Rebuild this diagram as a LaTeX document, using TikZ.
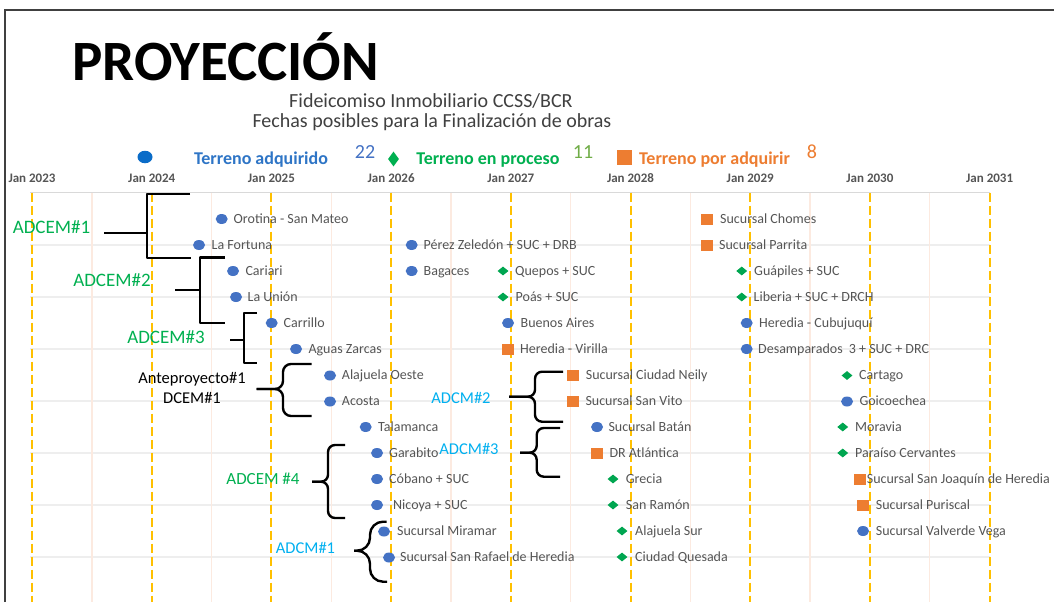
\documentclass[tikz,border=0pt]{standalone}
\usepackage{fontspec}
\setmainfont{Carlito}
\usetikzlibrary{shapes.geometric}
\definecolor{ptblue}{HTML}{4472C4}
\definecolor{ptgreen}{HTML}{00A650}
\definecolor{ptorange}{HTML}{ED7D31}
\definecolor{lblgray}{HTML}{555555}
\definecolor{gridgray}{HTML}{EEEEEE}
\definecolor{topgray}{HTML}{D9D9D9}
\definecolor{peach}{HTML}{FCEAE0}
\definecolor{yel}{HTML}{FFC000}
\definecolor{legblue}{HTML}{2E75C6}
\definecolor{legdot}{HTML}{0A6CC8}
\definecolor{leggreen}{HTML}{00B050}
\definecolor{cyanlbl}{HTML}{00B0F0}
\definecolor{numgreen}{HTML}{70AD47}
\definecolor{subgray}{HTML}{404040}
\begin{document}
\begin{tikzpicture}[x=1pt,y=-1pt,
  dot/.style={ellipse, fill=ptblue, minimum width=12pt, minimum height=10pt, inner sep=0pt},
  dia/.style={diamond, fill=ptgreen, minimum width=11pt, minimum height=9pt, inner sep=0pt},
  sq/.style={rectangle, fill=ptorange, minimum width=12pt, minimum height=11pt, inner sep=0pt},
  lbl/.style={anchor=west, inner sep=0pt, text=lblgray, text height=8.9pt, text depth=0pt, font=\fontsize{14}{16}\selectfont},
  axlbl/.style={inner sep=0pt, text=lblgray, text height=8.3pt, text depth=0pt, font=\fontsize{13}{15}\selectfont\bfseries},
  brk/.style={line width=2.4pt, black, line join=round},
  grnlbl/.style={inner sep=0pt, text=leggreen, text height=12pt, text depth=0pt, font=\fontsize{19}{22}\selectfont},
  cylbl/.style={inner sep=0pt, text=cyanlbl, text height=10.4pt, text depth=0pt, font=\fontsize{16.5}{19}\selectfont},
  legtxt/.style={inner sep=0pt, text height=11.4pt, text depth=0pt, font=\fontsize{18}{21}\selectfont\bfseries},
  legnum/.style={inner sep=0pt, text height=12.6pt, text depth=0pt, font=\fontsize{20}{23}\selectfont},
  subt/.style={inner sep=0pt, text=subgray, text height=12.6pt, text depth=0pt, font=\fontsize{20}{23}\selectfont}
]
\fill[white] (0,0) rectangle (1054,602);
\useasboundingbox (0,0) rectangle (1054,602);
% frame
\draw[subgray, line width=1.3pt] (5,602) -- (5,10) -- (1054,10);
% title
\node[anchor=base west, inner sep=0pt, font=\fontsize{57}{60}\selectfont\bfseries] (title) at (72,80) {PROYECCIÓN};
\node[subt] (sub1) at (431,101) {Fideicomiso Inmobiliario CCSS/BCR};
\node[subt] (sub2) at (432,121) {Fechas posibles para la Finalización de obras};
% legend
\node[ellipse, fill=legdot, minimum width=15pt, minimum height=12.5pt, inner sep=0pt] (lg1) at (145,157) {};
\node[legtxt, text=legblue] (lt1) at (261,159) {Terreno adquirido};
\node[legnum, text=ptblue] (ln1) at (365,152) {22};
\node[diamond, fill=leggreen, minimum width=11pt, minimum height=15pt, inner sep=0pt] (lg2) at (393.5,159) {};
\node[legtxt, text=leggreen] (lt2) at (488,159) {Terreno en proceso};
\node[legnum, text=numgreen] (ln2) at (583,152) {11};
\node[rectangle, fill=ptorange, minimum width=15pt, minimum height=15pt, inner sep=0pt] (lg3) at (624,157) {};
\node[legtxt, text=ptorange] (lt3) at (714.5,159) {Terreno por adquirir};
\node[legnum, text=ptorange] (ln3) at (812,152) {8};
% axis labels
\foreach \k/\yr in {0/2023,1/2024,2/2025,3/2026,4/2027,5/2028,6/2029,7/2030,8/2031}
  \node[axlbl] (ax\yr) at ({32+119.7*\k},178) {Jan \yr};
% grid
\draw[topgray, line width=1.5pt] (30,192.7) -- (990,192.7);
\foreach \yy in {245,297,349,401,453,505,557}
  \draw[gridgray, line width=1.2pt] (30,\yy) -- (990,\yy);
\foreach \k in {0,...,7}
  \draw[peach, line width=1.3pt] ({91.85+119.7*\k},192.7) -- ({91.85+119.7*\k},602);
\foreach \k in {0,...,8}
  \draw[yel, line width=2pt, dash pattern=on 9pt off 4pt] ({32+119.7*\k},192.7) -- ({32+119.7*\k},602);
% column 1
\node[dot] (m1) at (221.7,219) {};   \node[lbl] (l1) at (233.5,219) {Orotina - San Mateo};
\node[dot] (m2) at (199,245) {};     \node[lbl] (l2) at (211.5,245) {La Fortuna};
\node[dot] (m3) at (233,271) {};     \node[lbl] (l3) at (245.3,271) {Cariari};
\node[dot] (m4) at (236,297) {};     \node[lbl] (l4) at (247.5,297) {La Unión};
\node[dot] (m5) at (271.7,323) {};   \node[lbl] (l5) at (283.5,323) {Carrillo};
\node[dot] (m6) at (296,349) {};     \node[lbl] (l6) at (308.3,349) {Aguas Zarcas};
\node[dot] (m7) at (330,375.5) {};   \node[lbl] (l7) at (341.7,375.5) {Alajuela Oeste};
\node[dot] (m8) at (330,401.5) {};   \node[lbl] (l8) at (341.7,401.5) {Acosta};
\node[dot] (m9) at (365.7,427) {};   \node[lbl] (l9) at (378,427) {Talamanca};
\node[dot] (m10) at (377,453) {};    \node[lbl] (l10) at (389,453) {Garabito};
\node[dot] (m11) at (377,479) {};    \node[lbl] (l11) at (389,479) {Cóbano + SUC};
\node[dot] (m12) at (377,505) {};    \node[lbl] (l12) at (393,505) {Nicoya + SUC};
\node[dot] (m13) at (384,531.5) {};  \node[lbl] (l13) at (397,531.5) {Sucursal Miramar};
\node[dot] (m14) at (389,557.5) {};  \node[lbl] (l14) at (400,557.5) {Sucursal San Rafael de Heredia};
% column 2
\node[dot] (n1) at (411.7,245) {};   \node[lbl] (k1) at (423.5,245) {Pérez Zeledón + SUC + DRB};
\node[dot] (n2) at (411.7,271) {};   \node[lbl] (k2) at (423.5,271) {Bagaces};
\node[dia] (n3) at (503,271) {};     \node[lbl] (k3) at (515,271) {Quepos + SUC};
\node[dia] (n4) at (503,297) {};     \node[lbl] (k4) at (515.5,297) {Poás + SUC};
\node[dot] (n5) at (508,323) {};     \node[lbl] (k5) at (520.5,323) {Buenos Aires};
\node[sq] (n6) at (507.7,349) {};    \node[lbl] (k6) at (520,349) {Heredia - Virilla};
\node[sq] (n7) at (573,375.5) {};    \node[lbl] (k7) at (585.7,375.5) {Sucursal Ciudad Neily};
\node[sq] (n8) at (573,401.5) {};    \node[lbl] (k8) at (585.3,401.5) {Sucursal San Vito};
\node[dot] (n9) at (597,427) {};     \node[lbl] (k9) at (608.3,427) {Sucursal Batán};
\node[sq] (n10) at (597,453) {};     \node[lbl] (k10) at (609.3,453) {DR Atlántica};
\node[dia] (n11) at (613,479) {};    \node[lbl] (k11) at (625.7,479) {Grecia};
\node[dia] (n12) at (613,505) {};    \node[lbl] (k12) at (625.7,505) {San Ramón};
\node[dia] (n13) at (622,531) {};    \node[lbl] (k13) at (635,531) {Alajuela Sur};
\node[dia] (n14) at (622,557) {};    \node[lbl] (k14) at (635,557) {Ciudad Quesada};
% column 3
\node[sq] (p1) at (707,219) {};      \node[lbl] (q1) at (720,219) {Sucursal Chomes};
\node[sq] (p2) at (707,245) {};      \node[lbl] (q2) at (719,245) {Sucursal Parrita};
\node[dia] (p3) at (741.7,271) {};   \node[lbl] (q3) at (754,271) {Guápiles + SUC};
\node[dia] (p4) at (741.7,297) {};   \node[lbl] (q4) at (753.5,297) {Liberia + SUC + DRCH};
\node[dot] (p5) at (746.7,323) {};   \node[lbl] (q5) at (759,323) {Heredia - Cubujuquí};
\node[dot] (p6) at (746.7,349) {};   \node[lbl] (q6) at (758,349) {Desamparados\hspace{3pt} 3 + SUC + DRC};
\node[dia] (p7) at (847,375.5) {};   \node[lbl] (q7) at (859,375.5) {Cartago};
\node[dot] (p8) at (847,401.5) {};   \node[lbl] (q8) at (859.3,401.5) {Goicoechea};
\node[dia] (p9) at (842.7,427) {};   \node[lbl] (q9) at (855,427) {Moravia};
\node[dia] (p10) at (842.7,453) {};  \node[lbl] (q10) at (855,453) {Paraíso Cervantes};
\node[sq] (p11) at (860,479) {};     \node[lbl] (q11) at (866.7,479) {Sucursal San Joaquín de Heredia};
\node[sq] (p12) at (863,505) {};     \node[lbl] (q12) at (875.7,505) {Sucursal Puriscal};
\node[dot] (p13) at (863,531) {};    \node[lbl] (q13) at (875.7,531) {Sucursal Valverde Vega};
% square brackets ADCEM#1-3
\draw[brk] (190,194) -- (146.7,194) -- (146.7,258) -- (190.7,258);
\draw[brk] (104,232.7) -- (146.7,232.7);
\node[grnlbl] (g1) at (51.5,227.7) {ADCEM\#1};
\draw[brk] (225,257.3) -- (200,257.3) -- (200,323) -- (225,323);
\draw[brk] (175,290) -- (200,290);
\node[grnlbl] (g2) at (112,280) {ADCEM\#2};
\draw[brk] (257,313) -- (244,313) -- (244,363) -- (257.3,363);
\draw[brk] (230,340) -- (244,340);
\node[grnlbl] (g3) at (166,337) {ADCEM\#3};
% Anteproyecto brace
\draw[brk, rounded corners=8pt] (311.7,364) -- (283,364) -- (283,389) -- (256.7,389);
\draw[brk, rounded corners=8pt] (256.7,389) -- (283,389) -- (283,416) -- (311.7,416);
\node[align=center, inner sep=0pt, font=\fontsize{16.5}{20.3}\selectfont] (ap) at (192,388) {Anteproyecto\#1\\DCEM\#1};
% ADCM#2 brace
\draw[brk, rounded corners=7pt] (563,371.7) -- (535,371.7) -- (535,396.7) -- (509,396.7);
\draw[brk, rounded corners=7pt] (509,396.7) -- (535,396.7) -- (535,421.7) -- (563,421.7);
\node[cylbl] (c2) at (461,398) {ADCM\#2};
% ADCM#3 brace
\draw[brk, rounded corners=7pt] (560,428) -- (536.7,428) -- (536.7,452.7) -- (520,452.7);
\draw[brk, rounded corners=7pt] (520,452.7) -- (536.7,452.7) -- (536.7,476.7) -- (560,476.7);
\node[cylbl] (c3) at (469,449) {ADCM\#3};
% ADCEM #4 brace
\draw[brk, rounded corners=7pt] (345,445) -- (328,445) -- (328,481.7) -- (312,481.7);
\draw[brk, rounded corners=7pt] (312,481.7) -- (328,481.7) -- (328,518) -- (345,518);
\node[grnlbl, font=\fontsize{17}{20}\selectfont, text height=10.7pt] (g4) at (263,479) {ADCEM \#4};
% ADCM#1 brace
\draw[brk, rounded corners=13pt] (386.7,521.7) -- (370,521.7) -- (370,550.7) -- (354,550.7);
\draw[brk, rounded corners=13pt] (354,550.7) -- (370,550.7) -- (370,581.7) -- (387,581.7);
\node[cylbl] (c1) at (305.5,548) {ADCM\#1};
\end{tikzpicture}
\end{document}
